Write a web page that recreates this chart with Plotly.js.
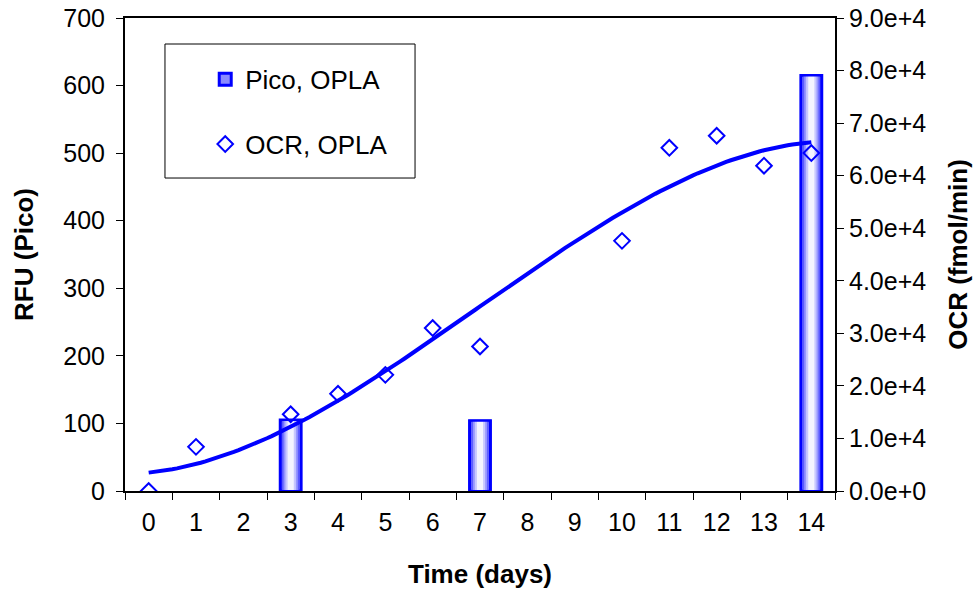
<!DOCTYPE html>
<html><head><meta charset="utf-8">
<script src="https://cdn.plot.ly/plotly-3.0.1.min.js"></script>
<style>html,body{margin:0;padding:0;background:#fff}#chart{width:974px;height:594px}</style>
</head><body><div id="chart"></div>
<script>
// ---- data ----
const dayCategories = ['0','1','2','3','4','5','6','7','8','9','10','11','12','13','14'];
const picoDays = ['3','7','14'];
const picoRFU = [105, 104, 615];
const ocrDays = [0, 1, 3, 4, 5, 6, 7, 10, 11, 12, 13, 14];
const ocrValues = [0, 8400, 14600, 18500, 22100, 31000, 27500, 47600, 65300, 67600, 61900, 64300];
const rfuTicks = [0, 100, 200, 300, 400, 500, 600, 700];
const ocrTicks = [0, 10000, 20000, 30000, 40000, 50000, 60000, 70000, 80000, 90000];

// cubic polynomial trendline (least squares) of OCR vs day
function polyfit(xs, ys, deg) {
  const n = deg + 1;
  const A = [];
  for (let i = 0; i < n; i++) {
    A.push(new Array(n + 1).fill(0));
    for (let j = 0; j < n; j++) {
      let s = 0; for (const x of xs) s += Math.pow(x, i + j);
      A[i][j] = s;
    }
    let s = 0; xs.forEach((x, k) => { s += Math.pow(x, i) * ys[k]; });
    A[i][n] = s;
  }
  for (let c = 0; c < n; c++) {
    let p = c;
    for (let r = c + 1; r < n; r++) if (Math.abs(A[r][c]) > Math.abs(A[p][c])) p = r;
    [A[c], A[p]] = [A[p], A[c]];
    for (let r = 0; r < n; r++) {
      if (r === c) continue;
      const f = A[r][c] / A[c][c];
      for (let k = c; k <= n; k++) A[r][k] -= f * A[c][k];
    }
  }
  return A.map((row, i) => row[n] / row[i]);
}
const coef = polyfit(ocrDays, ocrValues, 3);
const trendX = [], trendY = [];
const xmin = Math.min(...ocrDays), xmax = Math.max(...ocrDays);
for (let i = 0; i <= 140; i++) {
  const x = xmin + (xmax - xmin) * i / 140;
  trendX.push(x);
  trendY.push(coef.reduce((s, c, k) => s + c * Math.pow(x, k), 0));
}

const FONT = 'Liberation Sans, Arial, sans-serif';
const BLUE = '#0000ff';

// gradient-like bars: overlaid layers of decreasing width
const layers = [
  {w: 0.44, c: '#2020ff'},
  {w: 0.37, c: '#5a5aff'},
  {w: 0.30, c: '#9696ff'},
  {w: 0.22, c: '#c8c8ff'},
  {w: 0.13, c: '#f4f4ff'}
];
const traces = [];
layers.forEach((L, i) => {
  traces.push({
    type: 'bar', x: picoDays, y: picoRFU, width: L.w,
    name: 'Pico, OPLA', legendgroup: 'pico', showlegend: i === 0,
    marker: {color: i === 0 ? '#8a8aff' : L.c, line: {color: BLUE, width: i === 0 ? 3 : 0}},
    xaxis: 'x', yaxis: 'y', hoverinfo: 'skip'
  });
});
traces.push({
  type: 'bar', x: picoDays, y: picoRFU, width: 0.44, showlegend: false,
  marker: {color: 'rgba(0,0,0,0)', line: {color: BLUE, width: 2}},
  xaxis: 'x', yaxis: 'y', hoverinfo: 'skip'
});
traces.push({
  type: 'scatter', mode: 'lines', x: trendX, y: trendY, showlegend: false,
  line: {color: BLUE, width: 4}, xaxis: 'x2', yaxis: 'y2', hoverinfo: 'skip'
});
traces.push({
  type: 'scatter', mode: 'markers', x: ocrDays, y: ocrValues,
  name: 'OCR, OPLA', legendgroup: 'ocr',
  marker: {symbol: 'diamond-open', size: 12, color: BLUE, line: {color: BLUE, width: 2}},
  xaxis: 'x2', yaxis: 'y2'
});

const layout = {
  width: 974, height: 594,
  margin: {l: 125, r: 139, t: 18, b: 103},
  paper_bgcolor: '#fff', plot_bgcolor: '#fff',
  font: {family: FONT, size: 25, color: '#000'},
  barmode: 'overlay', showlegend: true,
  xaxis: {
    type: 'category', categoryorder: 'array', categoryarray: dayCategories,
    range: [-0.5, 14.5], tickson: 'boundaries',
    ticks: 'outside', ticklen: 7, tickwidth: 1, tickcolor: '#000',
    showline: true, linecolor: '#000', linewidth: 2, mirror: true,
    showgrid: false, zeroline: false, fixedrange: true,
    tickfont: {size: 25}, ticklabelstandoff: 8,
    title: {text: '<b>Time (days)</b>', font: {size: 26}, standoff: 30}
  },
  xaxis2: {
    overlaying: 'x', range: [-0.5, 14.5], visible: false, fixedrange: true
  },
  yaxis: {
    range: [0, 700], tickvals: rfuTicks, ticks: 'outside', ticklen: 7, tickwidth: 1, tickcolor: '#000',
    showline: true, linecolor: '#000', linewidth: 2,
    showgrid: false, zeroline: false, fixedrange: true, tickfont: {size: 25}, ticklabelstandoff: 6,
    title: {text: '<b>RFU (Pico)</b>', font: {size: 26}, standoff: 22}
  },
  yaxis2: {
    overlaying: 'y', side: 'right', anchor: 'x', range: [0, 90000], tickvals: ocrTicks,
    tickformat: '.1e', ticks: 'outside', ticklen: 7, tickwidth: 1, tickcolor: '#000',
    showline: true, linecolor: '#000', linewidth: 2,
    showgrid: false, zeroline: false, fixedrange: true, tickfont: {size: 25},
    title: {text: '<b>OCR (fmol/min)</b>', font: {size: 26}, standoff: 24}
  },
  legend: {
    x: 0.113, y: 0.92, xanchor: 'left', yanchor: 'top',
    bgcolor: 'rgba(0,0,0,0)', borderwidth: 0,
    font: {size: 26}, tracegroupgap: 28, traceorder: 'grouped'
  },
  shapes: [{
    type: 'rect', xref: 'paper', yref: 'paper',
    x0: 0.0563, x1: 0.4085, y0: 0.6617, y1: 0.945,
    line: {color: '#000', width: 1}, fillcolor: 'rgba(0,0,0,0)', layer: 'above'
  }]
};

Plotly.newPlot('chart', traces, layout, {displayModeBar: false, staticPlot: true});
</script>
</body></html>
